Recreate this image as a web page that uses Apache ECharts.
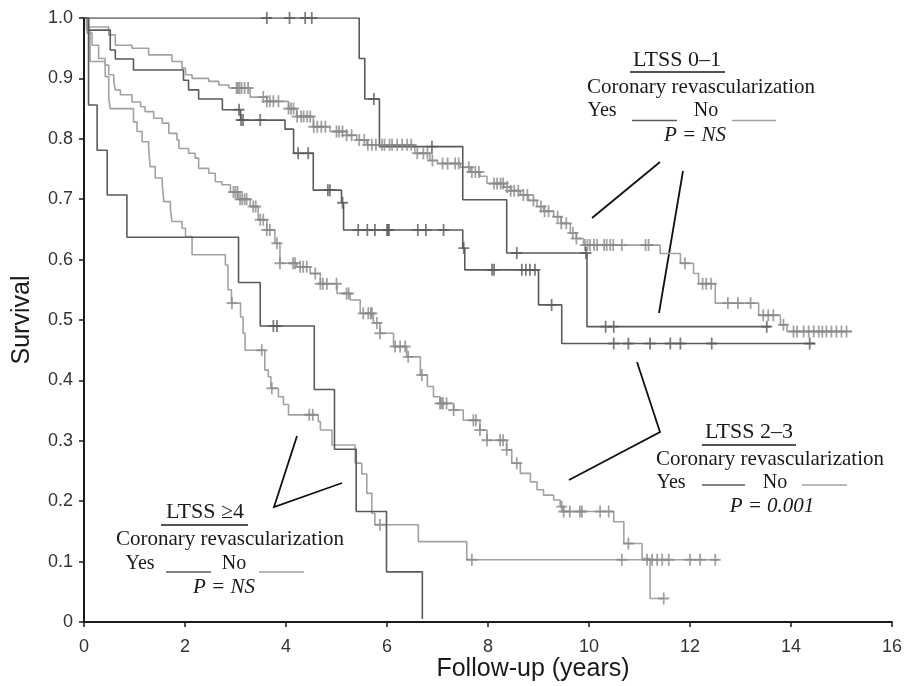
<!DOCTYPE html>
<html><head><meta charset="utf-8">
<script src="https://cdn.jsdelivr.net/npm/echarts@6/dist/echarts.min.js"></script>
<style>html,body{margin:0;padding:0;background:#fff}#c{width:909px;height:686px}</style>
</head><body><div id="c"></div>
<script>
// ---- LTSS 0-1, revascularization Yes (dark) ----
const yes01Times  = [0, 5.45, 5.56, 5.85, 7.50, 8.37, 9.96, 13.60];
const yes01Values = [1.0, 0.933, 0.866, 0.787, 0.699, 0.611, 0.489, 0.489];
const yes01Censor = [3.62, 4.07, 4.38, 4.51, 5.74, 6.89, 8.57, 9.94, 10.33, 10.49, 13.52];

// ---- LTSS 0-1, revascularization No (light) ----
const no01Times  = [0, 0.05, 0.49, 0.62, 0.95, 1.28, 1.74, 1.94, 2.01, 2.14, 2.47, 2.67, 2.87, 3.29, 3.62, 4.05, 4.21, 4.54, 4.87, 5.20, 5.40, 5.60, 6.55, 6.85, 7.00, 7.45, 7.65, 7.84, 7.98, 8.31, 8.45, 8.64, 8.80, 8.97, 9.10, 9.30, 9.45, 9.63, 9.75, 9.89, 11.41, 11.81, 12.07, 12.17, 12.50, 13.36, 13.79, 13.92, 15.21];
const no01Values = [1.0, 0.985, 0.972, 0.955, 0.950, 0.939, 0.928, 0.917, 0.906, 0.900, 0.895, 0.889, 0.884, 0.869, 0.862, 0.850, 0.837, 0.820, 0.812, 0.806, 0.798, 0.790, 0.776, 0.764, 0.759, 0.753, 0.745, 0.738, 0.726, 0.720, 0.714, 0.707, 0.698, 0.688, 0.680, 0.671, 0.660, 0.644, 0.635, 0.624, 0.610, 0.594, 0.577, 0.560, 0.528, 0.508, 0.492, 0.481, 0.481];
const no01Censor = [3.02, 3.05, 3.08, 3.12, 3.18, 3.25, 3.55, 3.62, 3.68, 3.75, 3.85, 4.05, 4.10, 4.15, 4.22, 4.30, 4.35, 4.42, 4.48, 4.55, 4.62, 4.70, 4.78, 5.00, 5.05, 5.12, 5.20, 5.30, 5.45, 5.55, 5.62, 5.70, 5.78, 5.90, 5.95, 6.05, 6.10, 6.20, 6.30, 6.40, 6.48, 6.60, 6.72, 6.80, 6.90, 7.10, 7.20, 7.35, 7.42, 7.62, 7.68, 7.75, 7.82, 8.12, 8.18, 8.25, 8.30, 8.38, 8.45, 8.52, 8.60, 8.70, 8.78, 8.90, 9.05, 9.12, 9.20, 9.38, 9.45, 9.55, 9.68, 9.75, 9.92, 9.97, 10.02, 10.10, 10.16, 10.30, 10.35, 10.42, 10.48, 10.65, 11.12, 11.18, 11.90, 12.25, 12.32, 12.42, 12.75, 12.95, 13.20, 13.45, 13.55, 13.65, 13.85, 14.05, 14.12, 14.25, 14.35, 14.45, 14.55, 14.62, 14.70, 14.80, 14.90, 15.00, 15.10];

// ---- LTSS 2-3, revascularization Yes (dark) ----
const yes23Times  = [0, 0.09, 0.52, 0.62, 0.98, 1.97, 2.07, 2.27, 2.74, 3.10, 3.98, 4.15, 4.54, 5.10, 5.14, 7.50, 7.54, 9.00, 9.46, 14.48];
const yes23Values = [1.0, 0.980, 0.947, 0.932, 0.914, 0.897, 0.881, 0.866, 0.848, 0.831, 0.816, 0.776, 0.715, 0.694, 0.649, 0.619, 0.583, 0.525, 0.461, 0.461];
const yes23Censor = [3.07, 3.11, 3.15, 3.49, 4.24, 4.44, 4.83, 4.87, 5.12, 5.43, 5.61, 5.76, 6.00, 6.02, 6.04, 6.61, 6.77, 7.12, 7.52, 8.08, 8.12, 8.67, 8.75, 8.83, 8.93, 9.26, 10.49, 10.78, 11.21, 11.61, 11.81, 12.43, 14.37];

// ---- LTSS 2-3, revascularization No (light) ----
const no23Times  = [0, 0.06, 0.16, 0.29, 0.42, 0.49, 0.59, 0.62, 0.72, 0.95, 1.12, 1.21, 1.38, 1.55, 1.68, 1.84, 1.88, 2.07, 2.20, 2.27, 2.47, 2.60, 2.73, 2.90, 3.05, 3.29, 3.45, 3.62, 3.78, 3.88, 4.21, 4.48, 4.68, 5.01, 5.27, 5.47, 5.73, 5.86, 6.13, 6.39, 6.66, 6.80, 6.92, 7.05, 7.32, 7.51, 7.84, 7.98, 8.37, 8.47, 8.64, 8.84, 8.97, 9.10, 9.30, 9.43, 9.49, 10.49, 10.69, 11.05, 11.21, 11.48];
const no23Values = [1.0, 0.975, 0.955, 0.933, 0.922, 0.906, 0.895, 0.881, 0.873, 0.861, 0.853, 0.845, 0.834, 0.826, 0.809, 0.798, 0.784, 0.776, 0.768, 0.751, 0.743, 0.729, 0.724, 0.712, 0.700, 0.688, 0.666, 0.649, 0.627, 0.594, 0.588, 0.577, 0.560, 0.544, 0.533, 0.511, 0.495, 0.478, 0.456, 0.439, 0.409, 0.390, 0.373, 0.362, 0.351, 0.334, 0.318, 0.301, 0.285, 0.263, 0.246, 0.232, 0.219, 0.210, 0.202, 0.191, 0.183, 0.166, 0.130, 0.105, 0.039, 0.039];
const no23Censor = [2.96, 3.00, 3.04, 3.09, 3.13, 3.18, 3.22, 3.35, 3.40, 3.49, 3.55, 3.62, 3.68, 3.82, 3.88, 4.14, 4.18, 4.28, 4.34, 4.41, 4.58, 4.68, 4.73, 4.81, 5.00, 5.20, 5.24, 5.53, 5.63, 5.68, 5.70, 5.80, 5.86, 6.16, 6.26, 6.36, 6.42, 6.69, 7.05, 7.08, 7.11, 7.18, 7.32, 7.71, 7.76, 7.84, 7.98, 8.24, 8.30, 8.37, 8.57, 9.46, 9.50, 9.62, 9.82, 9.86, 10.22, 10.39, 10.78, 11.48];

// ---- LTSS >=4, revascularization Yes (dark) ----
const yes4Times  = [0, 0.09, 0.26, 0.46, 0.85, 3.06, 3.49, 4.56, 4.96, 5.39, 5.99, 6.70];
const yes4Values = [1.0, 0.856, 0.781, 0.707, 0.637, 0.562, 0.490, 0.385, 0.286, 0.183, 0.083, 0.005];
const yes4Censor = [3.75, 3.82];

// ---- LTSS >=4, revascularization No (light) ----
const no4Times  = [0, 0.05, 0.12, 0.42, 0.49, 0.52, 0.98, 1.05, 1.15, 1.28, 1.31, 1.41, 1.55, 1.58, 1.71, 1.74, 1.94, 2.01, 2.14, 2.80, 2.85, 2.92, 3.10, 3.15, 3.19, 3.58, 3.65, 3.70, 3.85, 3.95, 4.05, 4.64, 4.68, 4.91, 5.37, 5.50, 5.60, 5.70, 5.76, 6.62, 7.58, 12.56];
const no4Values = [1.0, 0.980, 0.928, 0.903, 0.867, 0.850, 0.828, 0.812, 0.795, 0.784, 0.754, 0.735, 0.724, 0.696, 0.685, 0.663, 0.652, 0.638, 0.608, 0.591, 0.550, 0.528, 0.505, 0.478, 0.450, 0.417, 0.406, 0.387, 0.373, 0.360, 0.343, 0.332, 0.318, 0.293, 0.263, 0.245, 0.213, 0.180, 0.161, 0.133, 0.103, 0.103];
const no4Censor = [2.93, 3.52, 3.72, 4.46, 4.53, 5.86, 7.68, 10.65, 11.15, 11.25, 11.35, 11.45, 11.58, 12.00, 12.20, 12.50];

// ---- Axis ticks ----
const xTickValues = [0, 2, 4, 6, 8, 10, 12, 14, 16];
const yTickLabels = ['0', '0.1', '0.2', '0.3', '0.4', '0.5', '0.6', '0.7', '0.8', '0.9', '1.0'];

const DARK = '#5a5a5a', LIGHT = '#a2a2a2', LIGHT_C = '#8a8a8a';

function pairs(ts, vs) { return ts.map((t, i) => [t, vs[i]]); }
function survAt(ts, vs, t) { let v = vs[0]; for (let i = 0; i < ts.length; i++) { if (ts[i] <= t) v = vs[i]; } return v; }
function censorPts(cs, ts, vs) { return cs.map(t => [t, survAt(ts, vs, t)]); }

const PLUS = 'path://M4.2,0h1.6v4.2h4.2v1.6h-4.2v4.2h-1.6v-4.2h-4.2v-1.6h4.2z';

function stepSeries(ts, vs, color, z) {
  return { type: 'line', step: 'end', data: pairs(ts, vs), showSymbol: false, symbol: 'none',
    lineStyle: { color: color, width: 1.6 }, z: z, silent: true, animation: false };
}
function censorSeries(cs, ts, vs, color, z) {
  return { type: 'scatter', data: censorPts(cs, ts, vs), symbol: PLUS, symbolSize: [11, 12],
    itemStyle: { color: color }, z: z, silent: true, animation: false };
}

const chart = echarts.init(document.getElementById('c'), null, { renderer: 'canvas' });

const SERIF = '"Liberation Serif", "Times New Roman", serif';
const SANS = '"Liberation Sans", Arial, sans-serif';
function txt(x, y, text, font, rot) {
  return { type: 'text', x: x, y: y, rotation: rot || 0, silent: true,
    style: { text: text, font: font, fill: '#1a1a1a', textAlign: 'center', textVerticalAlign: 'middle', align: 'center', verticalAlign: 'middle' } };
}
function seg(x1, y1, x2, y2, color, w) {
  return { type: 'line', silent: true, shape: { x1: x1, y1: y1, x2: x2, y2: y2 }, style: { stroke: color, lineWidth: w } };
}
function poly(pts) {
  return { type: 'polyline', silent: true, shape: { points: pts }, style: { stroke: '#111', lineWidth: 1.8, fill: null } };
}

const graphics = [
  txt(22, 320, 'Survival', '25px ' + SANS, Math.PI / 2),
  txt(533, 669, 'Follow-up (years)', '25px ' + SANS),
  // LTSS 0-1
  txt(677, 60, 'LTSS 0\u20131', '22px ' + SERIF),
  seg(630, 72, 725, 72, '#1a1a1a', 1.6),
  txt(701, 87, 'Coronary revascularization', '21px ' + SERIF),
  txt(602, 111, 'Yes', '20px ' + SERIF),
  seg(632, 120.5, 677, 120.5, DARK, 1.5),
  txt(706, 111, 'No', '20px ' + SERIF),
  seg(732, 120.5, 776, 120.5, LIGHT, 1.5),
  txt(695, 135, 'P = NS', 'italic 21px ' + SERIF),
  poly([[660, 162], [592, 218]]),
  poly([[683, 171], [659, 313]]),
  // LTSS 2-3
  txt(749, 432, 'LTSS 2\u20133', '22px ' + SERIF),
  seg(702, 445, 796, 445, '#1a1a1a', 1.6),
  txt(770, 459, 'Coronary revascularization', '21px ' + SERIF),
  txt(671, 483, 'Yes', '20px ' + SERIF),
  seg(702, 485, 745, 485, DARK, 1.5),
  txt(775, 483, 'No', '20px ' + SERIF),
  seg(802, 485, 847, 485, LIGHT, 1.5),
  txt(772, 506, 'P = 0.001', 'italic 21px ' + SERIF),
  poly([[637, 362], [660, 432], [569, 480]]),
  // LTSS >=4
  txt(205, 512, 'LTSS \u22654', '22px ' + SERIF),
  seg(161, 525, 248, 525, '#1a1a1a', 1.6),
  txt(230, 539, 'Coronary revascularization', '21px ' + SERIF),
  txt(140, 564, 'Yes', '20px ' + SERIF),
  seg(166, 572, 211, 572, DARK, 1.5),
  txt(234, 564, 'No', '20px ' + SERIF),
  seg(259, 572, 304, 572, LIGHT, 1.5),
  txt(224, 587, 'P = NS', 'italic 21px ' + SERIF),
  poly([[297, 436], [274, 507], [342, 483]])
];

chart.setOption({
  animation: false,
  backgroundColor: '#fff',
  grid: { left: 84, top: 18, width: 808, height: 604, containLabel: false },
  xAxis: {
    type: 'value', min: xTickValues[0], max: xTickValues[xTickValues.length - 1], interval: 2,
    axisLine: { show: true, onZero: false, lineStyle: { color: '#1a1a1a', width: 2 } },
    axisTick: { show: true, length: 5, lineStyle: { color: '#1a1a1a', width: 1.5 } },
    axisLabel: { fontSize: 18, color: '#333', margin: 16, fontFamily: SANS },
    splitLine: { show: false }
  },
  yAxis: {
    type: 'value', min: 0, max: 1, interval: 0.1,
    axisLine: { show: true, onZero: false, lineStyle: { color: '#1a1a1a', width: 2 } },
    axisTick: { show: true, length: 5, lineStyle: { color: '#1a1a1a', width: 1.5 } },
    axisLabel: { fontSize: 18, color: '#333', margin: 11, fontFamily: SANS,
      formatter: function (v) { return yTickLabels[Math.round(v * 10)]; } },
    splitLine: { show: false }
  },
  series: [
    stepSeries(no01Times, no01Values, LIGHT, 2),
    stepSeries(no23Times, no23Values, LIGHT, 2),
    stepSeries(no4Times, no4Values, LIGHT, 2),
    stepSeries(yes01Times, yes01Values, DARK, 3),
    stepSeries(yes23Times, yes23Values, DARK, 3),
    stepSeries(yes4Times, yes4Values, DARK, 3),
    censorSeries(no01Censor, no01Times, no01Values, LIGHT_C, 4),
    censorSeries(no23Censor, no23Times, no23Values, LIGHT_C, 4),
    censorSeries(no4Censor, no4Times, no4Values, LIGHT_C, 4),
    censorSeries(yes01Censor, yes01Times, yes01Values, DARK, 5),
    censorSeries(yes23Censor, yes23Times, yes23Values, DARK, 5),
    censorSeries(yes4Censor, yes4Times, yes4Values, DARK, 5)
  ],
  graphic: graphics
});
</script></body></html>
